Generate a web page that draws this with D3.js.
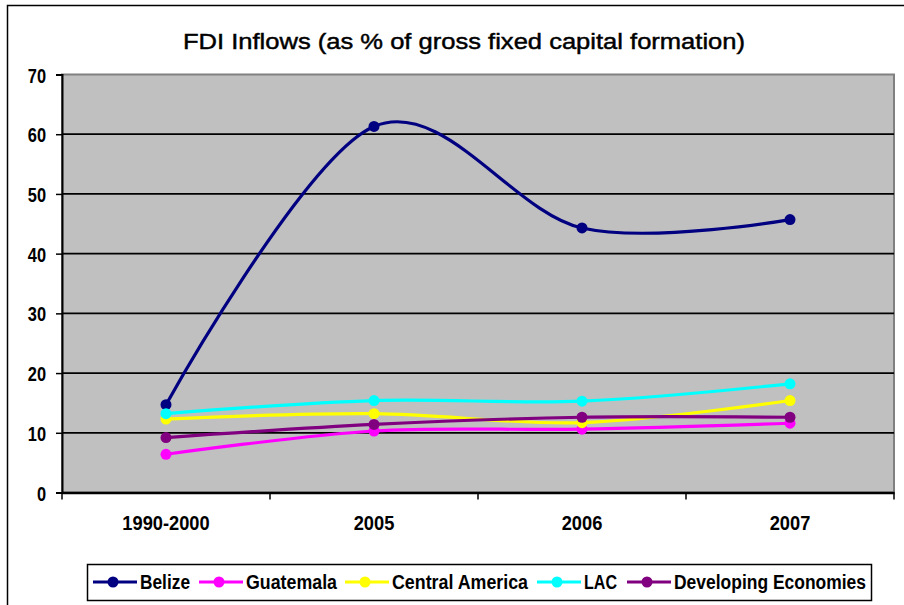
<!DOCTYPE html>
<html><head><meta charset="utf-8">
<script src="https://cdn.jsdelivr.net/npm/d3@7"></script>
<style>
html,body{margin:0;padding:0;background:#fff;}
svg{display:block;}
text{font-family:"Liberation Sans",Arial,sans-serif;}
</style></head>
<body><svg id="c" width="904" height="605"></svg>
<script>
const categories = ["1990-2000","2005","2006","2007"];
const seriesNames = ["Belize","Guatemala","Central America","LAC","Developing Economies"];
const seriesColors = ["#000080","#FF00FF","#FFFF00","#00FFFF","#800080"];
const belize = [14.7, 61.3, 44.3, 45.7];
const guatemala = [6.4, 10.3, 10.6, 11.6];
const centralAmerica = [12.3, 13.2, 11.7, 15.4];
const lac = [13.2, 15.4, 15.3, 18.2];
const developing = [9.2, 11.4, 12.6, 12.6];
const yTicks = [0,10,20,30,40,50,60,70];
const title = "FDI Inflows (as % of gross fixed capital formation)";

const seriesValues = [belize, guatemala, centralAmerica, lac, developing];

function narrow(sel, k){
  sel.each(function(){
    const w = this.getComputedTextLength();
    d3.select(this).attr("textLength", w*k).attr("lengthAdjust","spacingAndGlyphs");
  });
}

const svg = d3.select("#c");
svg.append("rect").attr("x",7.5).attr("y",5.5).attr("width",910).attr("height",610)
  .attr("fill","#fff").attr("stroke","#000").attr("stroke-width",1.5);

const L=62, R=894, T=74.5, B=492.5;
const x = d3.scaleBand().domain(categories).range([L,R]).paddingInner(0).paddingOuter(0);
const y = d3.scaleLinear().domain([0,70]).range([B,T]);

svg.append("rect").attr("x",L).attr("y",T).attr("width",R-L).attr("height",B-T)
  .attr("fill","#C0C0C0").attr("stroke","#808080").attr("stroke-width",2);

svg.append("g").selectAll("line").data(yTicks.filter(d=>d>0 && d<70)).join("line")
  .attr("x1",L).attr("x2",R).attr("y1",d=>y(d)).attr("y2",d=>y(d))
  .attr("stroke","#000").attr("stroke-width",1.8);

const yAxis = d3.axisLeft(y).tickValues(yTicks).tickSize(6).tickPadding(10).tickFormat(d3.format("d"));
const gy = svg.append("g").attr("transform",`translate(${L},0)`).call(yAxis);
gy.select(".domain").attr("stroke","#000").attr("stroke-width",2);
gy.selectAll(".tick line").attr("stroke","#000").attr("stroke-width",1.5);
gy.selectAll(".tick text").attr("font-size",21).attr("font-weight","bold").attr("fill","#000")
  .attr("font-family","'Liberation Sans',Arial,sans-serif").attr("dy","0.36em").call(narrow,0.78);

const xAxis = d3.axisBottom(x).tickSize(0).tickPadding(23);
const gx = svg.append("g").attr("transform",`translate(0,${B})`).call(xAxis);
gx.select(".domain").attr("stroke","#000").attr("stroke-width",2.5);
gx.selectAll(".tick text").attr("font-size",21).attr("font-weight","bold").attr("fill","#000")
  .attr("font-family","'Liberation Sans',Arial,sans-serif").call(narrow,0.87);
const bounds = categories.map(c=>x(c)).concat([R]);
svg.append("g").selectAll("line").data(bounds).join("line")
  .attr("x1",d=>d).attr("x2",d=>d).attr("y1",B).attr("y2",B+7)
  .attr("stroke","#000").attr("stroke-width",1.5);

svg.append("text").attr("x",464).attr("y",48.5).attr("text-anchor","middle")
  .attr("font-size",22).attr("fill","#000").attr("stroke","#000").attr("stroke-width",0.45)
  .attr("textLength",562).attr("lengthAdjust","spacingAndGlyphs").text(title);

const cx = c => x(c)+x.bandwidth()/2;
const line = d3.line().x((d,i)=>cx(categories[i])).y(d=>y(d)).curve(d3.curveCardinal.tension(0));
seriesValues.forEach((vals,si)=>{
  const g = svg.append("g");
  g.append("path").datum(vals).attr("d",line).attr("fill","none")
    .attr("stroke",seriesColors[si]).attr("stroke-width",3.2).attr("stroke-linejoin","round");
  g.selectAll("circle").data(vals).join("circle")
    .attr("cx",(d,i)=>cx(categories[i])).attr("cy",d=>y(d)).attr("r",5.5)
    .attr("fill",seriesColors[si]);
});

const lg = svg.append("g");
lg.append("rect").attr("x",87.5).attr("y",564.5).attr("width",784).attr("height",36)
  .attr("fill","#fff").attr("stroke","#000").attr("stroke-width",1.5);
const legX = [93, 199, 345, 537, 627];
const legW = [50, 91, 136, 33, 192];
seriesNames.forEach((n,i)=>{
  const g = lg.append("g").attr("transform",`translate(${legX[i]},582)`);
  g.append("line").attr("x1",0).attr("x2",44).attr("y1",0).attr("y2",0)
    .attr("stroke",seriesColors[i]).attr("stroke-width",3.2);
  g.append("circle").attr("cx",20).attr("cy",0).attr("r",5.5).attr("fill",seriesColors[i]);
  g.append("text").attr("x",47).attr("y",6.5).attr("font-size",19.5).attr("font-weight","bold")
    .attr("fill","#000").attr("textLength",legW[i]).attr("lengthAdjust","spacingAndGlyphs").text(n);
});
</script></body></html>
